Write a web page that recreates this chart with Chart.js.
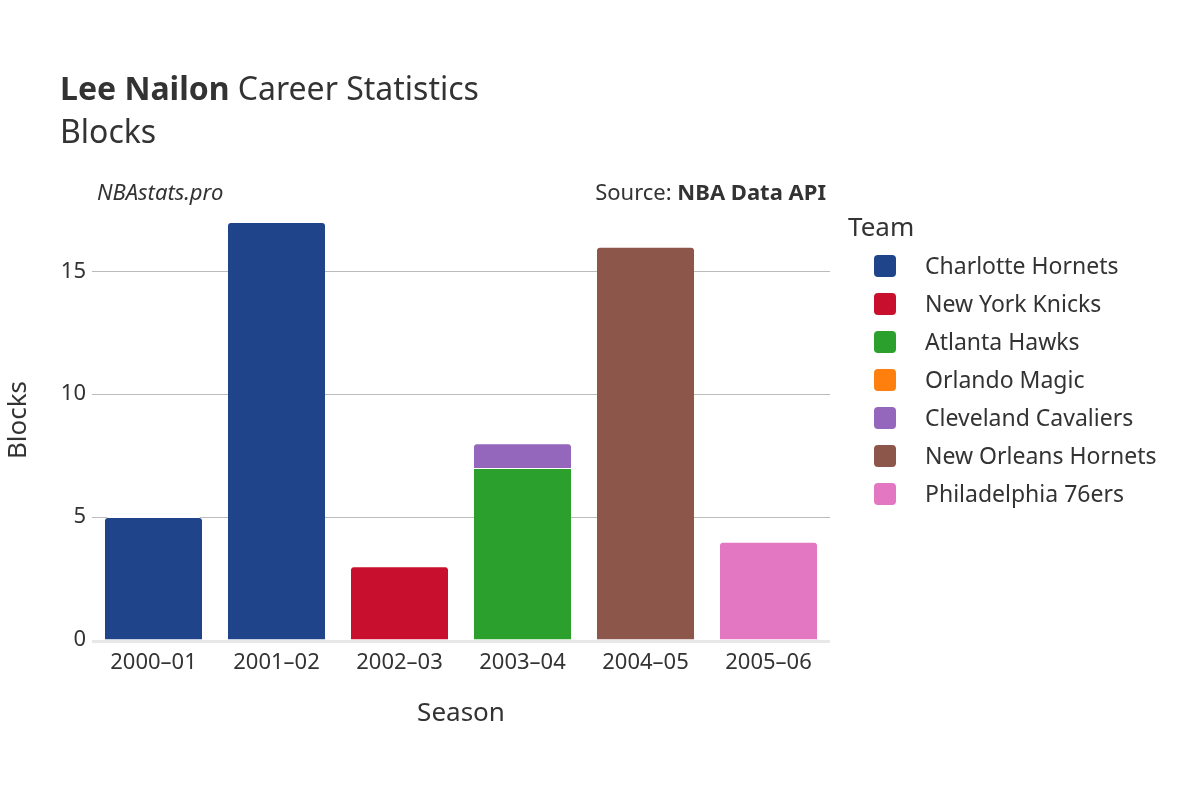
<!DOCTYPE html>
<html><head><meta charset="utf-8">
<script src="https://cdn.jsdelivr.net/npm/chart.js@4"></script>
<style>body{margin:0;background:#fff}#wrap{width:1200px;height:800px}</style>
</head><body><div id="wrap"><canvas id="c" width="1200" height="800"></canvas></div>
<script>
// seasons + blocks per team
const seasons = ['2000–01', '2001–02', '2002–03', '2003–04', '2004–05', '2005–06'];
const teams = ['Charlotte Hornets', 'New York Knicks', 'Atlanta Hawks', 'Orlando Magic', 'Cleveland Cavaliers', 'New Orleans Hornets', 'Philadelphia 76ers'];
const colors = ['#1f4489', '#c8102e', '#2ca02c', '#ff7f0e', '#9467bd', '#8c564b', '#e377c2'];
const charlotte = [5, 17, null, null, null, null];
const knicks = [null, null, 3, null, null, null];
const atlanta = [null, null, null, 7, null, null];
const orlando = [null, null, null, null, null, null];
const cleveland = [null, null, null, 1, null, null];
const noh = [null, null, null, null, 16, null];
const sixers = [null, null, null, null, null, 4];
const yTicks = [0, 5, 10, 15];

const FONT = '"Noto Sans", "DejaVu Sans", sans-serif';
const series = [charlotte, knicks, atlanta, orlando, cleveland, noh, sixers];

const decor = {
  id: 'decor',
  beforeDatasetsDraw(chart) {
    const ctx = chart.ctx, a = chart.chartArea;
    ctx.save();
    ctx.fillStyle = '#e8e8e8';
    ctx.fillRect(a.left, a.bottom, a.right - a.left, 3);
    ctx.restore();
  },
  afterDraw(chart) {
    const ctx = chart.ctx;
    ctx.save();
    ctx.fillStyle = '#333';
    ctx.textBaseline = 'alphabetic';
    ctx.textAlign = 'left';
    ctx.font = 'bold 32px ' + FONT;
    ctx.fillText('Lee Nailon', 60, 100);
    const w = ctx.measureText('Lee Nailon ').width;
    ctx.font = '32px ' + FONT;
    ctx.fillText('Career Statistics', 60 + w, 100);
    ctx.fillText('Blocks', 60, 143);
    ctx.font = 'italic 22px ' + FONT;
    ctx.fillText('NBAstats.pro', 97, 200);
    ctx.textAlign = 'right';
    ctx.font = 'bold 22px ' + FONT;
    ctx.fillText('NBA Data API', 826, 200);
    const bw = ctx.measureText('NBA Data API').width;
    ctx.font = '22px ' + FONT;
    ctx.fillText('Source: ', 826 - bw, 200);
    ctx.textAlign = 'center';
    ctx.font = '26px ' + FONT;
    ctx.fillText('Season', 461, 721);
    ctx.save();
    ctx.translate(26, 420);
    ctx.rotate(-Math.PI / 2);
    ctx.fillText('Blocks', 0, 0);
    ctx.restore();
    ctx.textAlign = 'left';
    ctx.fillText('Team', 848, 236);
    ctx.font = '23px ' + FONT;
    teams.forEach((t, i) => {
      const y = 266 + i * 38;
      ctx.fillStyle = colors[i];
      ctx.beginPath();
      ctx.roundRect(874, y - 11, 22, 22, 4);
      ctx.fill();
      ctx.fillStyle = '#333';
      ctx.fillText(t, 925, y + 8);
    });
    ctx.restore();
  }
};

new Chart(document.getElementById('c'), {
  type: 'bar',
  data: {
    labels: seasons,
    datasets: teams.map((t, i) => ({
      label: t, data: series[i], backgroundColor: colors[i],
      borderColor: '#fff', borderWidth: { top: 1 }, borderSkipped: 'bottom',
      borderRadius: 4, barPercentage: 0.79, categoryPercentage: 1
    }))
  },
  options: {
    responsive: false, animation: false,
    layout: { padding: { left: 0, top: 200, right: 370, bottom: 0 } },
    plugins: { legend: { display: false }, tooltip: { enabled: false } },
    scales: {
      x: {
        stacked: true,
        grid: { display: false },
        border: { display: false },
        ticks: { color: '#333', font: { family: FONT, size: 22 }, padding: 2 },
        afterFit: s => { s.height = 160; }
      },
      y: {
        stacked: true, min: 0, max: 17.9,
        afterBuildTicks: s => { s.ticks = yTicks.map(v => ({ value: v })); },
        grid: { color: '#bbb', drawTicks: false },
        border: { display: false },
        ticks: { color: '#333', font: { family: FONT, size: 22 }, padding: 6 },
        afterFit: s => { s.width = 92; }
      }
    }
  },
  plugins: [decor]
});
</script></body></html>
